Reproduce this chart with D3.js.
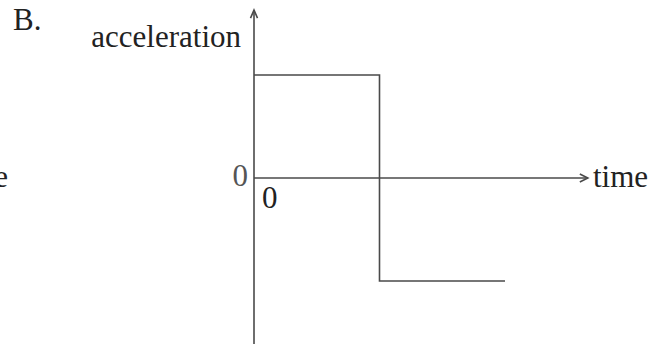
<!DOCTYPE html>
<html><head><meta charset="utf-8">
<script src="https://cdn.jsdelivr.net/npm/d3@7"></script>
<style>html,body{margin:0;padding:0;background:#fff;}svg{display:block;}</style>
</head><body>
<script>
// Data
const stepTimes = [0, 1, 1, 2];
const stepAccel = [1, 1, -1, -1];
const axisTimeMax = 2.66;
const axisAccelMax = 1.63;
const axisAccelMin = -1.62;
const panelLabel = "B.";
const yLabel = "acceleration";
const xLabel = "time";
const originLabels = ["0", "0"];

const W = 661, H = 344;
const svg = d3.select("body").append("svg").attr("width", W).attr("height", H);
const x = d3.scaleLinear().domain([0, 2]).range([254, 505]);
const y = d3.scaleLinear().domain([-1, 1]).range([281, 75]);
const font = "'Liberation Serif','Times New Roman',serif";
const ink = "#4a4a4a";

// axes
const g = svg.append("g").attr("fill", "none").attr("stroke", ink).attr("stroke-width", 1.6);
g.append("line").attr("x1", x(0)).attr("x2", x(0)).attr("y1", y(axisAccelMin)).attr("y2", y(axisAccelMax));
g.append("line").attr("x1", x(0)).attr("x2", x(axisTimeMax)).attr("y1", y(0)).attr("y2", y(0));
// arrowheads
const yt = y(axisAccelMax), xt = x(axisTimeMax);
g.append("path").attr("d", `M${x(0)-3.5},${yt+8}L${x(0)},${yt}L${x(0)+3.5},${yt+8}`);
g.append("path").attr("d", `M${xt-8},${y(0)-4}L${xt},${y(0)}L${xt-8},${y(0)+4}`);

// step line
const pts = stepTimes.map((t, i) => [t, stepAccel[i]]);
svg.append("path").datum(pts)
  .attr("fill", "none").attr("stroke", ink).attr("stroke-width", 1.6)
  .attr("d", d3.line().x(d => x(d[0])).y(d => y(d[1])));

// texts
const txt = (s, px, py, anchor, fill) => svg.append("text").text(s)
  .attr("x", px).attr("y", py).attr("text-anchor", anchor || "start")
  .attr("font-family", font).attr("font-size", 31).attr("fill", fill || "#222");
txt(panelLabel, 13, 30);
txt(yLabel, 241, 47, "end");
txt(xLabel, 593, 187);
txt(originLabels[0], 248, 186, "end", "#555");
txt(originLabels[1], 262, 208);
txt(xLabel, 8, 187, "end");
</script>
</body></html>
